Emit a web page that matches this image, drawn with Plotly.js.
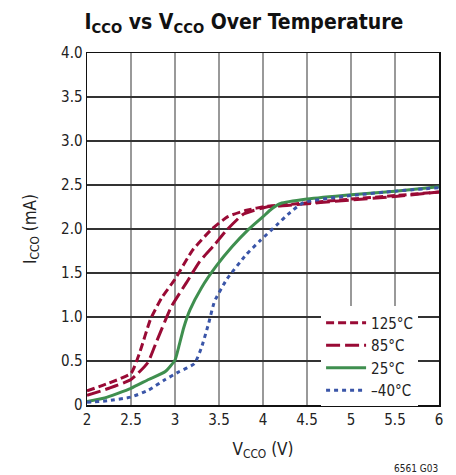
<!DOCTYPE html>
<html>
<head>
<meta charset="utf-8">
<script src="https://cdn.plot.ly/plotly-3.0.1.min.js"></script>
<style>html,body{margin:0;padding:0;background:#fff;}#chart{width:456px;height:475px;}</style>
</head>
<body>
<div id="chart"></div>
<script>
var seriesNames = ['125°C', '85°C', '25°C', '–40°C'];

var x125 = [2.0, 2.25, 2.5, 2.6, 2.72, 2.85, 3.0, 3.2, 3.42, 3.6, 3.8, 4.05, 4.3, 5.0, 5.5, 6.0];
var y125 = [0.16, 0.25, 0.36, 0.6, 0.97, 1.22, 1.43, 1.76, 2.0, 2.14, 2.21, 2.26, 2.28, 2.34, 2.38, 2.42];

var x85 = [2.0, 2.25, 2.5, 2.69, 2.79, 2.96, 3.13, 3.28, 3.44, 3.59, 3.78, 4.04, 4.3, 5.0, 5.5, 6.0];
var y85 = [0.11, 0.19, 0.29, 0.48, 0.72, 1.12, 1.39, 1.63, 1.81, 1.99, 2.17, 2.25, 2.27, 2.33, 2.37, 2.42];

var x25 = [2.0, 2.2, 2.5, 2.7, 2.89, 3.0, 3.04, 3.1, 3.17, 3.3, 3.47, 3.65, 3.83, 4.0, 4.1, 4.2, 4.5, 5.0, 5.5, 6.0];
var y25 = [0.04, 0.08, 0.19, 0.29, 0.38, 0.51, 0.65, 0.88, 1.08, 1.33, 1.58, 1.8, 1.99, 2.14, 2.23, 2.29, 2.34, 2.39, 2.43, 2.48];

var xm40 = [2.0, 2.25, 2.5, 2.7, 2.89, 3.05, 3.22, 3.3, 3.38, 3.45, 3.59, 3.81, 3.97, 4.15, 4.31, 4.46, 5.0, 5.5, 6.0];
var ym40 = [0.03, 0.05, 0.09, 0.17, 0.29, 0.38, 0.47, 0.65, 0.92, 1.18, 1.43, 1.71, 1.87, 2.04, 2.19, 2.30, 2.38, 2.43, 2.47];

var xTickVals = [2, 2.5, 3, 3.5, 4, 4.5, 5, 5.5, 6];
var xTickText = ['2', '2.5', '3', '3.5', '4', '4.5', '5', '5.5', '6'];
var yTickVals = [0, 0.5, 1, 1.5, 2, 2.5, 3, 3.5, 4];
var yTickText = ['0', '0.5', '1.0', '1.5', '2.0', '2.5', '3.0', '3.5', '4.0'];

var RED = '#990a35', GREEN = '#3f8f4f', BLUE = '#3a55a8';
var FONT = '"DejaVu Sans Condensed", "Liberation Sans", Arial, sans-serif';

var traces = [
  {x: x125, y: y125, name: seriesNames[0], mode: 'lines', line: {color: RED, width: 3, dash: '8px,4px', shape: 'spline', smoothing: 0.5}},
  {x: x85, y: y85, name: seriesNames[1], mode: 'lines', line: {color: RED, width: 3, dash: '14px,5px', shape: 'spline', smoothing: 0.5}},
  {x: x25, y: y25, name: seriesNames[2], mode: 'lines', line: {color: GREEN, width: 3, shape: 'spline', smoothing: 0.5}},
  {x: xm40, y: ym40, name: seriesNames[3], mode: 'lines', line: {color: BLUE, width: 3, dash: '4px,4px', shape: 'spline', smoothing: 0.5}}
];

var layout = {
  width: 456, height: 475,
  margin: {l: 87, r: 17, t: 53, b: 70},
  paper_bgcolor: '#fff', plot_bgcolor: '#fff',
  font: {family: FONT, size: 15, color: '#222'},
  title: {text: '<b>I<sub>CCO</sub> vs V<sub>CCO</sub> Over Temperature</b>', font: {family: FONT, size: 21, color: '#111'}, x: 0.535, xanchor: 'center', y: 0.955, yanchor: 'middle'},
  xaxis: {
    range: [2, 6], tickvals: xTickVals, ticktext: xTickText,
    showgrid: true, gridcolor: '#999', gridwidth: 1.5,
    showline: true, linecolor: '#111', linewidth: 1.5, mirror: true,
    ticks: '', zeroline: false, tickfont: {size: 15},
    title: {text: 'V<sub>CCO</sub> (V)', font: {size: 17}, standoff: 15}
  },
  yaxis: {
    range: [0, 4], tickvals: yTickVals, ticktext: yTickText,
    showgrid: true, gridcolor: '#333', gridwidth: 1.2,
    showline: true, linecolor: '#111', linewidth: 1.5, mirror: true,
    ticks: '', zeroline: false, tickfont: {size: 15},
    title: {text: 'I<sub>CCO</sub> (mA)', font: {size: 17}, standoff: 20}
  },
  legend: {x: 0.665, y: 0.28, xanchor: 'left', yanchor: 'top', bgcolor: '#fff', borderwidth: 0, font: {size: 15}, tracegroupgap: 0, itemwidth: 40},
  showlegend: true,
  annotations: [{text: '6561 G03', xref: 'paper', yref: 'paper', x: 1.003, y: -0.18, xanchor: 'right', yanchor: 'middle', showarrow: false, font: {size: 10, color: '#222'}}]
};

Plotly.newPlot('chart', traces, layout, {staticPlot: true, displayModeBar: false});
</script>
</body>
</html>
